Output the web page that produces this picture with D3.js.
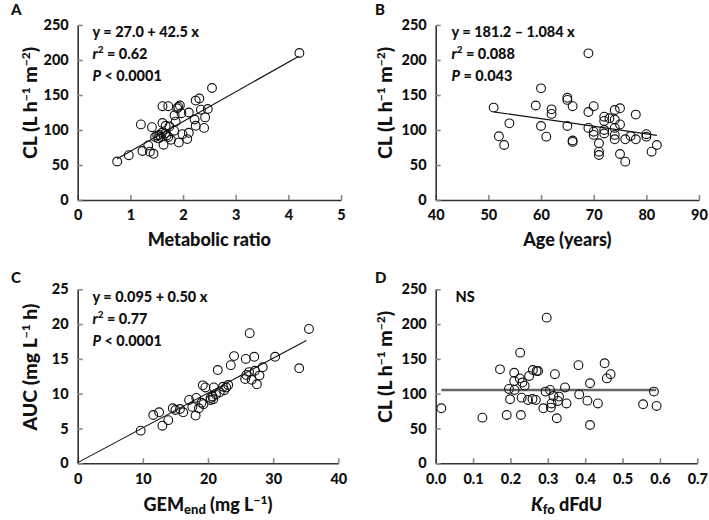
<!DOCTYPE html>
<html><head><meta charset="utf-8">
<script src="https://cdn.jsdelivr.net/npm/d3@7"></script>
<style>
body{margin:0;background:#fff}
text{font-family:Lato,'DejaVu Sans',sans-serif;font-weight:900;fill:#111}
</style>
</head><body>
<svg id="c" width="709" height="520"></svg>
<script>
// ---- Panel A: Metabolic ratio vs CL ----
const ratioA = [0.75,0.97,1.2,1.23,1.34,1.37,1.41,1.44,1.47,1.51,1.55,1.58,1.61,1.61,1.63,1.66,1.67,1.72,1.72,1.74,1.77,1.83,1.84,1.86,1.89,1.91,1.94,1.92,1.97,1.99,2.08,2.11,2.11,2.22,2.24,2.24,2.31,2.34,2.40,2.42,2.47,2.55,4.21,1.53,1.60,1.69];
const clA    = [55,64,108,70,78,69,104,66,90,92,93,90,134,110,79,95,106,134,90,105,86,99,121,112,131,133,135,82,124,94,87,125,96,115,106,142,145,129,103,118,130,160,210,88,96,92];
// ---- Panel B: Age vs CL ----
const ageB = [51,52,53,54,59,60,60,61,62,62,65,65,65,66,66,66,69,69,69,70,70,70,71,71,71,72,72,72,72,73,74,74,74,74,74,75,75,75,76,76,77,78,78,80,80,81,82];
const clB  = [132,91,78.6,109.5,135,159.5,105.7,90.5,129.5,123,146,143,105.7,134,85,83,209.5,125.7,103,134,97.6,93,81,69,64.3,119,113,100,95,116.7,128.6,115,103,93,86.7,131,108,65.7,86.7,54.8,91.4,122,86.7,94,90.5,69,78.6];
// ---- Panel C: GEMend vs AUC ----
const gemC = [9.67,11.6,12.5,13.0,13.9,14.6,15.0,15.7,16.2,17.1,17.6,18.2,18.1,18.6,19.0,19.3,19.2,19.6,20.4,20.4,20.7,20.8,20.9,21.2,21.5,21.8,22.3,22.5,22.8,23.1,23.5,24.0,25.7,25.8,25.9,26.4,26.3,26.7,27.1,27.2,27.5,27.9,28.4,30.3,34.0,35.5];
const aucC = [4.69,6.94,7.33,5.4,6.2,7.9,7.66,7.8,7.33,9.1,8.1,9.4,6.85,7.9,8.7,8.5,11.2,10.9,9.4,9.1,9.6,9.2,10.9,9.9,13.4,10.2,11.0,10.5,10.9,11.25,14.1,15.4,12.1,15.0,12.7,18.7,13.1,12.0,15.3,13.3,11.35,12.6,13.8,15.3,13.65,19.3];
// ---- Panel D: Kfo dFdU vs CL ----
const kfoD = [0.015,0.125,0.172,0.19,0.196,0.199,0.21,0.21,0.211,0.225,0.226,0.228,0.23,0.232,0.238,0.247,0.25,0.259,0.26,0.268,0.27,0.274,0.288,0.294,0.297,0.306,0.308,0.31,0.315,0.319,0.324,0.327,0.33,0.346,0.35,0.382,0.384,0.406,0.413,0.413,0.434,0.452,0.458,0.468,0.555,0.584,0.591];
const clD  = [79,65.6,135,69.4,106.8,92,130,118.3,105.4,122,159,69.4,94.3,116,111.6,91,125.5,92.4,134,91,132.6,132.6,79,103,209.3,105.4,80,86,96.7,128,64.7,89.6,95.8,109,86,141,99,90,115,55,86,143.7,122,128,84.8,103,82.4];

// fitted lines (intercept, slope, x range)
const fitA = {a:27.0, b:42.5, x:[0.75,4.2]};
const fitB = {a:181.2, b:-1.084, x:[51,82]};
const fitC = {a:0.095, b:0.50, x:[0,35.1]};
const fitD = {a:105.4, b:0, x:[0.015,0.59]};

// ticks
const ticksAx = [0,1,2,3,4,5], ticksBx = [40,50,60,70,80,90], ticksCx = [0,10,20,30,40], ticksDx = [0,0.1,0.2,0.3,0.4,0.5,0.6,0.7];
const ticksCL = [0,50,100,150,200,250], ticksAUC = [0,5,10,15,20,25];

const svg = d3.select('#c');

function panel(o){
  const g = svg.append('g');
  const x = d3.scaleLinear().domain(o.xd).range([o.L,o.R]);
  const y = d3.scaleLinear().domain(o.yd).range([o.B,o.T]);
  const ax = g.append('g').attr('transform',`translate(0,${o.B})`)
    .call(d3.axisBottom(x).tickValues(o.xt).tickSizeInner(-5).tickSizeOuter(0).tickPadding(10).tickFormat(o.xf||d3.format('d')));
  const ay = g.append('g').attr('transform',`translate(${o.L},0)`)
    .call(d3.axisLeft(y).tickValues(o.yt).tickSizeInner(-5).tickSizeOuter(0).tickPadding(9).tickFormat(d3.format('d')));
  [ax,ay].forEach(a=>{
    a.select('.domain').attr('stroke','#333').attr('stroke-width',1.6);
    a.selectAll('.tick line').attr('stroke','#888').attr('stroke-width',1.6);
    a.selectAll('.tick text').style('font-size','14.5px').style('font-family','Lato,sans-serif').style('font-weight','900').attr('fill','#111');
  });
  const f = o.fit;
  g.append('line').attr('x1',x(f.x[0])).attr('x2',x(f.x[1]))
    .attr('y1',y(f.a+f.b*f.x[0])).attr('y2',y(f.a+f.b*f.x[1]))
    .attr('stroke',o.fitColor||'#111').attr('stroke-width',o.fitW||1.1);
  g.selectAll('circle.p').data(o.xs.map((v,i)=>[v,o.ys[i]])).join('circle')
    .attr('cx',d=>x(d[0])).attr('cy',d=>y(d[1])).attr('r',4.4)
    .attr('fill','none').attr('stroke','#111').attr('stroke-width',1.1);
  g.append('text').attr('x',o.letterX).attr('y',o.letterY).style('font-size','15px').text(o.letter);
  const xt = g.append('text').attr('x',(o.L+o.R)/2).attr('y',o.xTitleY).attr('text-anchor','middle').style('font-size','18px');
  o.xTitle(xt);
  const yt = g.append('text').attr('transform',`translate(${o.yTitleX},${o.yTitleY}) rotate(-90)`).attr('text-anchor','middle').style('font-size','19.5px');
  o.yTitle(yt);
  if(o.ann) o.ann(g);
  return g;
}

function clTitle(t){
  t.append('tspan').text('CL (L h');
  t.append('tspan').attr('dy',-7).style('font-size','12px').text('−1');
  t.append('tspan').attr('dy',7).text(' m');
  t.append('tspan').attr('dy',-7).style('font-size','12px').text('−2');
  t.append('tspan').attr('dy',7).text(')');
}

function stats(g, x0, y0, line1, r2, pTxt){
  const fs='14.5px';
  g.append('text').attr('x',x0).attr('y',y0).style('font-size',fs).text(line1);
  const t2 = g.append('text').attr('x',x0).attr('y',y0+22).style('font-size',fs);
  t2.append('tspan').style('font-style','italic').text('r');
  t2.append('tspan').attr('dy',-6).style('font-size','10px').text('2');
  t2.append('tspan').attr('dy',6).text(' = '+r2);
  const t3 = g.append('text').attr('x',x0).attr('y',y0+44).style('font-size',fs);
  t3.append('tspan').style('font-style','italic').text('P');
  t3.append('tspan').text(' '+pTxt);
}

panel({L:77.7,R:341,T:25,B:200,xd:[0,5],yd:[0,250],xt:ticksAx,yt:ticksCL,xs:ratioA,ys:clA,fit:fitA,
  letter:'A',letterX:11,letterY:15,xTitleY:246,yTitleX:37,yTitleY:103,
  xTitle:t=>t.text('Metabolic ratio'), yTitle:clTitle,
  ann:g=>stats(g,92.5,37,'y = 27.0 + 42.5 x','0.62','< 0.0001')});

panel({L:435.7,R:699,T:25,B:200,xd:[40,90],yd:[0,250],xt:ticksBx,yt:ticksCL,xs:ageB,ys:clB,fit:fitB,
  letter:'B',letterX:375,letterY:15,xTitleY:246,yTitleX:392,yTitleY:103,
  xTitle:t=>t.text('Age (years)'), yTitle:clTitle,
  ann:g=>stats(g,451.5,37,'y = 181.2 – 1.084 x','0.088','= 0.043')});

panel({L:77.7,R:338.3,T:289.3,B:463.3,xd:[0,40],yd:[0,25],xt:ticksCx,yt:ticksAUC,xs:gemC,ys:aucC,fit:fitC,
  letter:'C',letterX:11,letterY:283,xTitleY:511,yTitleX:37,yTitleY:367,
  xTitle:t=>{t.append('tspan').text('GEM');t.append('tspan').attr('dy',3).style('font-size','13px').text('end');t.append('tspan').attr('dy',-3).text(' (mg L');t.append('tspan').attr('dy',-7).style('font-size','12px').text('−1');t.append('tspan').attr('dy',7).text(')');},
  yTitle:t=>{t.append('tspan').text('AUC (mg L');t.append('tspan').attr('dy',-7).style('font-size','12px').text('−1');t.append('tspan').attr('dy',7).text(' h)');},
  ann:g=>stats(g,92.5,302,'y = 0.095 + 0.50 x','0.77','< 0.0001')});

panel({L:435.7,R:697.3,T:289.3,B:463.3,xd:[0,0.7],yd:[0,250],xt:ticksDx,yt:ticksCL,xs:kfoD,ys:clD,fit:fitD,fitColor:'#666',fitW:2.6,
  xf:d3.format('.1f'),
  letter:'D',letterX:375,letterY:283,xTitleY:511,yTitleX:392,yTitleY:367,
  xTitle:t=>{t.append('tspan').style('font-style','italic').text('K');t.append('tspan').attr('dy',3).style('font-size','13px').text('fo');t.append('tspan').attr('dy',-3).text(' dFdU');},
  yTitle:clTitle,
  ann:g=>g.append('text').attr('x',455.5).attr('y',302).style('font-size','14.5px').text('NS')});
</script>
</body></html>
